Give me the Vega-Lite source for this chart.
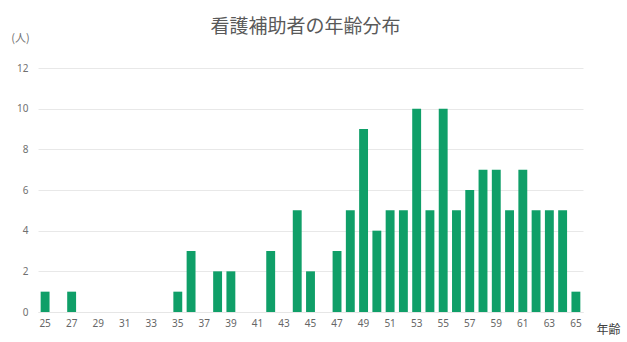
{
  "$schema": "https://vega.github.io/schema/vega-lite/v6.json",
  "width": 545,
  "height": 244,
  "autosize": "none",
  "padding": {"left": 38, "top": 68, "right": 44, "bottom": 30},
  "background": "white",
  "title": {
    "text": "看護補助者の年齢分布",
    "font": "Noto Sans CJK JP",
    "fontSize": 19,
    "fontWeight": "normal",
    "color": "#595959",
    "anchor": "middle",
    "dx": -5,
    "offset": -5
  },
  "data": {
    "values": [
      {"age": 25, "count": 1}, {"age": 26, "count": 0}, {"age": 27, "count": 1}, {"age": 28, "count": 0},
      {"age": 29, "count": 0}, {"age": 30, "count": 0}, {"age": 31, "count": 0}, {"age": 32, "count": 0},
      {"age": 33, "count": 0}, {"age": 34, "count": 0}, {"age": 35, "count": 1}, {"age": 36, "count": 3},
      {"age": 37, "count": 0}, {"age": 38, "count": 2}, {"age": 39, "count": 2}, {"age": 40, "count": 0},
      {"age": 41, "count": 0}, {"age": 42, "count": 3}, {"age": 43, "count": 0}, {"age": 44, "count": 5},
      {"age": 45, "count": 2}, {"age": 46, "count": 0}, {"age": 47, "count": 3}, {"age": 48, "count": 5},
      {"age": 49, "count": 9}, {"age": 50, "count": 4}, {"age": 51, "count": 5}, {"age": 52, "count": 5},
      {"age": 53, "count": 10}, {"age": 54, "count": 5}, {"age": 55, "count": 10}, {"age": 56, "count": 5},
      {"age": 57, "count": 6}, {"age": 58, "count": 7}, {"age": 59, "count": 7}, {"age": 60, "count": 5},
      {"age": 61, "count": 7}, {"age": 62, "count": 5}, {"age": 63, "count": 5}, {"age": 64, "count": 5},
      {"age": 65, "count": 1}
    ]
  },
  "mark": {"type": "bar", "color": "#0f9f68"},
  "encoding": {
    "x": {
      "field": "age",
      "type": "ordinal",
      "scale": {"paddingInner": 0.33, "paddingOuter": 0.2},
      "axis": {
        "title": "年齢",
        "titleFont": "Noto Sans CJK JP",
        "titleFontSize": 12,
        "titleFontWeight": "normal",
        "titleColor": "#404040",
        "titleX": 570,
        "titleY": 17,
        "titleAlign": "center",
        "titleBaseline": "middle",
        "labelExpr": "datum.value % 2 == 1 ? datum.label : ''",
        "labelAngle": 0,
        "labelFont": "Noto Sans",
        "labelFontSize": 10,
        "labelColor": "#666666",
        "labelPadding": 6,
        "ticks": false,
        "domain": true,
        "domainColor": "#e6e6e6",
        "grid": false
      }
    },
    "y": {
      "field": "count",
      "type": "quantitative",
      "scale": {"domain": [0, 12]},
      "axis": {
        "values": [0, 2, 4, 6, 8, 10, 12],
        "title": "(人)",
        "titleAngle": 0,
        "titleFont": "Noto Sans CJK JP",
        "titleFontSize": 11,
        "titleFontWeight": "normal",
        "titleColor": "#707070",
        "titleX": -18,
        "titleY": -30,
        "titleAlign": "center",
        "titleBaseline": "middle",
        "labelFont": "Noto Sans",
        "labelFontSize": 10,
        "labelColor": "#707070",
        "labelPadding": 10,
        "ticks": false,
        "domain": false,
        "grid": true,
        "gridColor": "#e8e8e8",
        "gridWidth": 1
      }
    }
  },
  "config": {"view": {"stroke": null}}
}
